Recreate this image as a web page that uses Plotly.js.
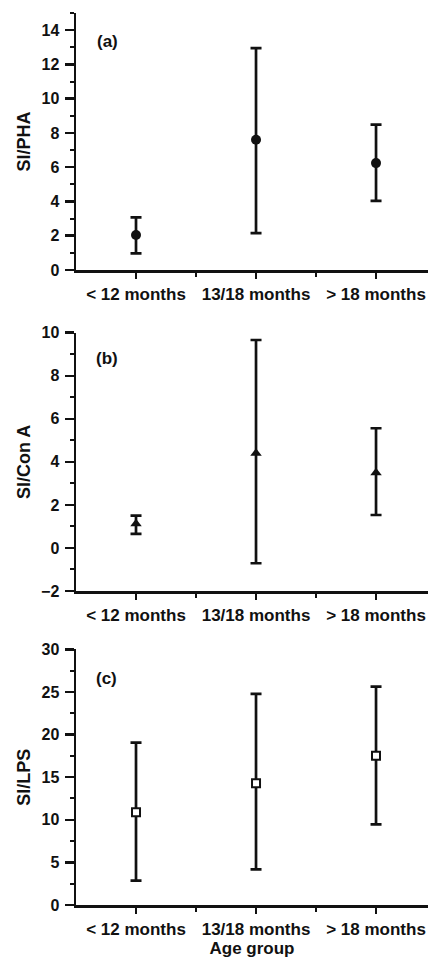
<!DOCTYPE html>
<html>
<head>
<meta charset="utf-8">
<script src="https://cdn.plot.ly/plotly-3.0.1.min.js"></script>
<style>html,body{margin:0;padding:0;background:#fff;}#chart{width:428px;height:958px;}</style>
</head>
<body>
<div id="chart"></div>
<script>
// Categories
var ageGroups = ["< 12 months", "13/18 months", "> 18 months"];
var xPos = [0, 1, 2];

// (a) SI/PHA
var phaMean = [2.04, 7.6, 6.24];
var phaUpper = [3.07, 12.95, 8.49];
var phaLower = [0.97, 2.15, 4.03];

// (b) SI/Con A
var conMean = [1.12, 4.4, 3.49];
var conUpper = [1.50, 9.66, 5.56];
var conLower = [0.65, -0.71, 1.53];

// (c) SI/LPS
var lpsMean = [10.88, 14.28, 17.52];
var lpsUpper = [19.05, 24.76, 25.62];
var lpsLower = [2.85, 4.18, 9.47];

// Tick labels
var phaTicks = [0, 2, 4, 6, 8, 10, 12, 14];
var conTicks = [-2, 0, 2, 4, 6, 8, 10];
var lpsTicks = [0, 5, 10, 15, 20, 25, 30];

var ink = "#111";
var FONT = "Liberation Sans, Arial, Helvetica, sans-serif";

function diff(a, b, sign) { return a.map(function (v, i) { return sign * (v - b[i]); }); }

function trace(mean, up, lo, sym, xa, ya, open, size) {
  return {
    type: "scatter", mode: "markers", x: xPos, y: mean, xaxis: xa, yaxis: ya,
    showlegend: false,
    marker: open ? { symbol: sym, size: size, color: "#fff", line: { color: ink, width: 2 } }
                 : { symbol: sym, size: size, color: ink, line: { color: ink, width: 0 } },
    error_y: { type: "data", symmetric: false, array: diff(up, mean, 1), arrayminus: diff(mean, lo, 1),
               color: ink, thickness: 2.7, width: 5.5 }
  };
}

var data = [
  trace(phaMean, phaUpper, phaLower, "circle", "x", "y", false, 10),
  trace(conMean, conUpper, conLower, "triangle-up", "x2", "y2", false, 10),
  trace(lpsMean, lpsUpper, lpsLower, "square", "x3", "y3", true, 8)
];

function xaxis(anchor, showTitle) {
  var ax = {
    anchor: anchor, domain: [76 / 428, 1], range: [-0.5, 2.433],
    tickmode: "array", tickvals: xPos, ticktext: ageGroups,
    showline: true, linecolor: ink, linewidth: 2.5, mirror: false,
    ticks: "outside", ticklen: 6, tickwidth: 2.5, tickcolor: ink,
    minor: { tickmode: "array", tickvals: [0.5, 1.5], ticks: "outside", ticklen: 4, tickwidth: 2, tickcolor: ink },
    showgrid: false, zeroline: false, fixedrange: true,
    tickfont: { family: FONT, size: 17, color: ink, weight: "bold" },
    ticklabelstandoff: 1
  };
  if (showTitle) ax.title = { text: "Age group", font: { family: FONT, size: 17, color: ink, weight: "bold" }, standoff: 1 };
  return ax;
}

function yaxis(anchor, dom, range, ticks, minorDtick, minorTick0, title) {
  return {
    anchor: anchor, domain: dom, range: range,
    tickmode: "array", tickvals: ticks,
    showline: true, linecolor: ink, linewidth: 2.5,
    ticks: "outside", ticklen: 9, tickwidth: 2.5, tickcolor: ink,
    minor: { dtick: minorDtick, tick0: minorTick0, ticks: "outside", ticklen: 4, tickwidth: 2, tickcolor: ink },
    showgrid: false, zeroline: false, fixedrange: true,
    tickfont: { family: FONT, size: 16, color: ink, weight: "bold" },
    ticklabelstandoff: 2,
    title: { text: title, font: { family: FONT, size: 18, color: ink, weight: "bold" }, standoff: 6 }
  };
}

var H = 958;
var layout = {
  width: 428, height: 958,
  margin: { l: 0, r: 0, t: 0, b: 0 },
  paper_bgcolor: "#fff", plot_bgcolor: "#fff",
  xaxis: xaxis("y", false),
  xaxis2: xaxis("y2", false),
  xaxis3: xaxis("y3", true),
  yaxis: yaxis("x", [1 - 270 / H, 1 - 13 / H], [0, 15], phaTicks, 1, 0, "SI/PHA"),
  yaxis2: yaxis("x2", [1 - 591 / H, 1 - 332.7 / H], [-2, 10], conTicks, 1, 0, "SI/Con A"),
  yaxis3: yaxis("x3", [1 - 905 / H, 1 - 649.3 / H], [0, 30], lpsTicks, 2.5, 0, "SI/LPS"),
  annotations: [
    { text: "(a)", xref: "x domain", yref: "y domain", x: 0.055, y: 0.888, xanchor: "left", yanchor: "middle", showarrow: false, font: { family: FONT, size: 17, color: ink, weight: "bold" } },
    { text: "(b)", xref: "x2 domain", yref: "y2 domain", x: 0.052, y: 0.90, xanchor: "left", yanchor: "middle", showarrow: false, font: { family: FONT, size: 17, color: ink, weight: "bold" } },
    { text: "(c)", xref: "x3 domain", yref: "y3 domain", x: 0.052, y: 0.887, xanchor: "left", yanchor: "middle", showarrow: false, font: { family: FONT, size: 17, color: ink, weight: "bold" } }
  ]
};

Plotly.newPlot("chart", data, layout, { staticPlot: true, displayModeBar: false });
</script>
</body>
</html>
